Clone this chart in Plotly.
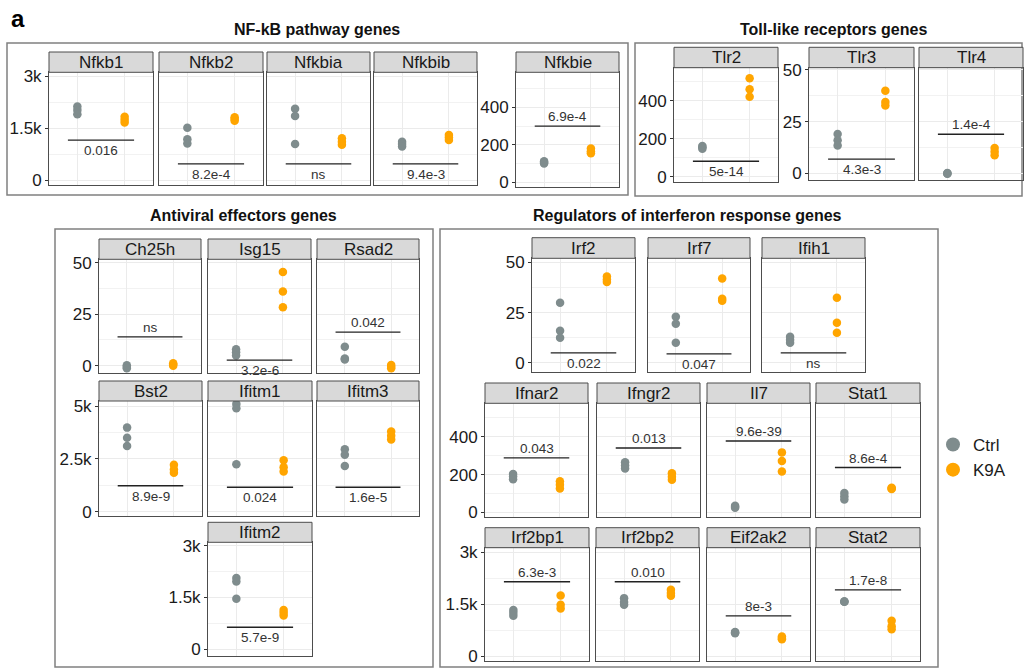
import plotly.graph_objects as go

# ---------------- data ----------------
genes = ["Nfkb1", "Nfkb2", "Nfkbia", "Nfkbib", "Nfkbie",
         "Tlr2", "Tlr3", "Tlr4",
         "Ch25h", "Isg15", "Rsad2", "Bst2", "Ifitm1", "Ifitm3", "Ifitm2",
         "Irf2", "Irf7", "Ifih1", "Ifnar2", "Ifngr2", "Il7", "Stat1",
         "Irf2bp1", "Irf2bp2", "Eif2ak2", "Stat2"]

ctrl_values = {
    "Nfkb1": [2120, 2020, 1900], "Nfkb2": [1510, 1180, 1060], "Nfkbia": [2060, 1850, 1045],
    "Nfkbib": [1110, 1040, 970], "Nfkbie": [112, 106, 100],
    "Tlr2": [162, 155, 148], "Tlr3": [19, 16, 13.5], "Tlr4": [0.2, 0, -0.2],
    "Ch25h": [0.2, -0.6, -1.3], "Isg15": [8, 6.5, 5], "Rsad2": [9.2, 3.5, 3.0],
    "Bst2": [3980, 3500, 3110], "Ifitm1": [5100, 4900, 2250], "Ifitm3": [2950, 2700, 2160],
    "Ifitm2": [2060, 1960, 1460],
    "Irf2": [30, 16, 12.5], "Irf7": [23, 19.5, 10], "Ifih1": [13, 11.5, 10],
    "Ifnar2": [203, 190, 175], "Ifngr2": [265, 248, 232], "Il7": [35, 30, 25], "Stat1": [102, 85, 68],
    "Irf2bp1": [1330, 1250, 1160], "Irf2bp2": [1670, 1560, 1480], "Eif2ak2": [690, 675, 660],
    "Stat2": [1575, 1570, 1565],
}
k9a_values = {
    "Nfkb1": [1830, 1740, 1660], "Nfkb2": [1810, 1760, 1710], "Nfkbia": [1210, 1110, 1020],
    "Nfkbib": [1300, 1230, 1160], "Nfkbie": [180, 166, 155],
    "Tlr2": [518, 460, 421], "Tlr3": [40, 34.5, 32.8], "Tlr4": [12.3, 10.5, 8.8],
    "Ch25h": [1.2, 0.6, 0], "Isg15": [45.5, 36, 28.4], "Rsad2": [0.3, -0.5, -1.2],
    "Bst2": [2220, 2000, 1840], "Ifitm1": [2440, 2100, 1900], "Ifitm3": [3800, 3600, 3420],
    "Ifitm2": [1140, 1060, 980],
    "Irf2": [43, 41.5, 40.3], "Irf7": [42, 32, 31], "Ifih1": [32.5, 20, 15],
    "Ifnar2": [165, 146, 126], "Ifngr2": [207, 188, 172], "Il7": [317, 272, 216], "Stat1": [130, 127, 124],
    "Irf2bp1": [1745, 1480, 1370], "Irf2bp2": [1910, 1820, 1740], "Eif2ak2": [560, 520, 485],
    "Stat2": [1020, 860, 770],
}
pbar_y = {
    "Nfkb1": 1154, "Nfkb2": 470, "Nfkbia": 470, "Nfkbib": 470, "Nfkbie": 300,
    "Tlr2": 82, "Tlr3": 6.9, "Tlr4": 18.9,
    "Ch25h": 14, "Isg15": 2.7, "Rsad2": 16.3, "Bst2": 1230, "Ifitm1": 1155, "Ifitm3": 1155,
    "Ifitm2": 637,
    "Irf2": 5, "Irf7": 4.5, "Ifih1": 5, "Ifnar2": 288, "Ifngr2": 340, "Il7": 377, "Stat1": 237,
    "Irf2bp1": 2141, "Irf2bp2": 2141, "Eif2ak2": 1157, "Stat2": 1909,
}
p_labels = {
    "Nfkb1": "0.016", "Nfkb2": "8.2e-4", "Nfkbia": "ns", "Nfkbib": "9.4e-3", "Nfkbie": "6.9e-4",
    "Tlr2": "5e-14", "Tlr3": "4.3e-3", "Tlr4": "1.4e-4",
    "Ch25h": "ns", "Isg15": "3.2e-6", "Rsad2": "0.042", "Bst2": "8.9e-9", "Ifitm1": "0.024",
    "Ifitm3": "1.6e-5", "Ifitm2": "5.7e-9",
    "Irf2": "0.022", "Irf7": "0.047", "Ifih1": "ns", "Ifnar2": "0.043", "Ifngr2": "0.013",
    "Il7": "9.6e-39", "Stat1": "8.6e-4", "Irf2bp1": "6.3e-3", "Irf2bp2": "0.010",
    "Eif2ak2": "8e-3", "Stat2": "1.7e-8",
}
groups = ["Ctrl", "K9A"]
group_titles = ["NF-kB pathway genes", "Toll-like receptors genes",
                "Antiviral effectors genes", "Regulators of interferon response genes"]

# ---------------- layout / styles ----------------
W, H = 1026, 668
CTRL_COLOR = "#7F8C8D"
K9A_COLOR = "#FFA500"
FONT = "Arial, Liberation Sans, sans-serif"

# y scales: (range, major ticks, tick text, minor ticks)
SCALES = {
    "3k_nf": ([-138, 3108], [0, 1500, 3000], ["0", "1.5k", "3k"], [750, 2250]),
    "400_nf": ([-25, 587], [0, 200, 400], ["0", "200", "400"], [100, 300, 500]),
    "400_tlr": ([-26, 574], [0, 200, 400], ["0", "200", "400"], [100, 300, 500]),
    "50_tlr": ([-3.2, 51.1], [0, 25, 50], ["0", "25", "50"], [12.5, 37.5]),
    "50_av": ([-3.7, 51.7], [0, 25, 50], ["0", "25", "50"], [12.5, 37.5]),
    "5k_av": ([-190, 5240], [0, 2500, 5000], ["0", "2.5k", "5k"], [1250, 3750]),
    "3k_av": ([-185, 3095], [0, 1500, 3000], ["0", "1.5k", "3k"], [750, 2250]),
    "50_reg": ([-4.4, 52.1], [0, 25, 50], ["0", "25", "50"], [12.5, 37.5]),
    "400_reg": ([-24, 576], [0, 200, 400], ["0", "200", "400"], [100, 300, 500]),
    "3k_reg": ([-135, 3125], [0, 1500, 3000], ["0", "1.5k", "3k"], [750, 2250]),
}

# panel pixel boxes: x0, x1, strip_top, plot_top, plot_bottom, scale, show y labels, label above?
PANELS = {
    "Nfkb1": (49, 153, 52, 72.3, 185, "3k_nf", True, False),
    "Nfkb2": (159, 263, 52, 72.3, 185, "3k_nf", False, False),
    "Nfkbia": (267, 370, 52, 72.3, 185, "3k_nf", False, False),
    "Nfkbib": (374, 477, 52, 72.3, 185, "3k_nf", False, False),
    "Nfkbie": (516, 619, 52, 72.3, 187, "400_nf", True, True),
    "Tlr2": (674, 778, 47.3, 67.7, 181.7, "400_tlr", True, False),
    "Tlr3": (809, 914, 47.3, 67.7, 180, "50_tlr", True, False),
    "Tlr4": (919, 1023, 47.3, 67.7, 180, "50_tlr", False, True),
    "Ch25h": (99, 201, 239, 259.3, 373.3, "50_av", True, True),
    "Isg15": (208, 311, 239, 259.3, 373.3, "50_av", False, False),
    "Rsad2": (317, 419, 239, 259.3, 373.3, "50_av", False, True),
    "Bst2": (99, 202, 381, 401, 515.7, "5k_av", True, False),
    "Ifitm1": (208, 312, 381, 401, 515.7, "5k_av", False, False),
    "Ifitm3": (317, 419, 381, 401, 515.7, "5k_av", False, False),
    "Ifitm2": (208, 312, 522.3, 542.3, 655.7, "3k_av", True, False),
    "Irf2": (532, 635, 237.7, 258.3, 371.7, "50_reg", True, False),
    "Irf7": (648, 750, 237.7, 258.3, 371.7, "50_reg", False, False),
    "Ifih1": (762, 865, 237.7, 258.3, 371.7, "50_reg", False, False),
    "Ifnar2": (485, 588, 383, 403.3, 517, "400_reg", True, True),
    "Ifngr2": (597, 700, 383, 403.3, 517, "400_reg", False, True),
    "Il7": (707, 810, 383, 403.3, 517, "400_reg", False, True),
    "Stat1": (816, 920, 383, 403.3, 517, "400_reg", False, True),
    "Irf2bp1": (485, 589, 527.7, 547.7, 660.7, "3k_reg", True, True),
    "Irf2bp2": (596, 699, 527.7, 547.7, 660.7, "3k_reg", False, True),
    "Eif2ak2": (707, 810, 527.7, 547.7, 660.7, "3k_reg", False, True),
    "Stat2": (816, 920, 527.7, 547.7, 660.7, "3k_reg", False, True),
}

# group boxes (x0, x1, top, bottom) and title centres (x, y)
GROUP_BOXES = [(7, 628, 43, 195), (635, 1022, 43, 196), (55, 433, 229, 667), (440, 938, 229, 667)]
GROUP_TITLE_POS = [(317, 30), (833, 30), (243, 215), (687, 215)]


def fx(px):
    return px / W


def fy(py):
    return 1 - py / H


fig = go.Figure()
shapes = []
annotations = []
layout = {}

for i, g in enumerate(genes, start=1):
    x0, x1, st, pt, pb, sc, showy, above = PANELS[g]
    rng, major, mtext, minor = SCALES[sc]
    xa, ya = f"x{i}", f"y{i}"
    xkey = "xaxis" if i == 1 else f"xaxis{i}"
    ykey = "yaxis" if i == 1 else f"yaxis{i}"
    layout[xkey] = dict(
        domain=[fx(x0), fx(x1)], anchor=ya, type="category",
        categoryorder="array", categoryarray=groups, range=[-0.6, 1.6],
        showticklabels=False, ticks="", showgrid=True, gridcolor="#EBEBEB", gridwidth=1.2,
        zeroline=False, showline=True, mirror=True, linecolor="#4d4d4d", linewidth=1,
        fixedrange=True,
    )
    layout[ykey] = dict(
        domain=[fy(pb), fy(pt)], anchor=xa, range=rng,
        tickmode="array", tickvals=major, ticktext=mtext, showticklabels=showy,
        ticks="outside" if showy else "", ticklen=3, tickcolor="#333", tickwidth=1,
        tickfont=dict(family=FONT, size=17, color="#1a1a1a"),
        showgrid=True, gridcolor="#EBEBEB", gridwidth=1.2,
        minor=dict(tickvals=minor, showgrid=True, gridcolor="#F2F2F2", gridwidth=0.8, ticks=""),
        zeroline=False, showline=True, mirror=True, linecolor="#4d4d4d", linewidth=1,
        fixedrange=True,
    )
    # points
    fig.add_trace(go.Scatter(
        x=[groups[0]] * len(ctrl_values[g]), y=ctrl_values[g], mode="markers",
        marker=dict(color=CTRL_COLOR, size=8.5), xaxis=xa, yaxis=ya, showlegend=False,
        hoverinfo="y"))
    fig.add_trace(go.Scatter(
        x=[groups[1]] * len(k9a_values[g]), y=k9a_values[g], mode="markers",
        marker=dict(color=K9A_COLOR, size=8.5), xaxis=xa, yaxis=ya, showlegend=False,
        hoverinfo="y"))
    # strip
    shapes.append(dict(type="rect", xref="paper", yref="paper",
                       x0=fx(x0), x1=fx(x1), y0=fy(pt), y1=fy(st),
                       fillcolor="#D9D9D9", line=dict(color="#4d4d4d", width=1)))
    annotations.append(dict(xref="paper", yref="paper", x=fx((x0 + x1) / 2), y=fy((st + pt) / 2),
                            text=g, showarrow=False, xanchor="center", yanchor="middle",
                            font=dict(family=FONT, size=17, color="#1a1a1a")))
    # p-value bar and label
    shapes.append(dict(type="line", xref=xa, yref=ya, x0=-0.2, x1=1.2,
                       y0=pbar_y[g], y1=pbar_y[g], line=dict(color="#222", width=1.4)))
    annotations.append(dict(xref=xa, yref=ya, x=0.5, y=pbar_y[g], text=p_labels[g],
                            showarrow=False, xanchor="center",
                            yanchor="bottom" if above else "top",
                            yshift=0 if above else -1,
                            font=dict(family=FONT, size=13.5, color="#333")))

# group boxes and titles
for (bx0, bx1, bt, bb), title, (tx, ty) in zip(GROUP_BOXES, group_titles, GROUP_TITLE_POS):
    shapes.append(dict(type="rect", xref="paper", yref="paper", layer="below",
                       x0=fx(bx0), x1=fx(bx1), y0=fy(bb), y1=fy(bt),
                       line=dict(color="#808080", width=1.5)))
    annotations.append(dict(xref="paper", yref="paper", x=fx(tx), y=fy(ty), text=f"<b>{title}</b>",
                            showarrow=False, xanchor="center", yanchor="middle",
                            font=dict(family=FONT, size=16, color="#111")))

annotations.append(dict(xref="paper", yref="paper", x=fx(9), y=fy(18), text="<b>a</b>",
                        showarrow=False, xanchor="left", yanchor="middle",
                        font=dict(family=FONT, size=24, color="#000")))

# legend entries
for name, col in zip(groups, [CTRL_COLOR, K9A_COLOR]):
    fig.add_trace(go.Scatter(x=[None], y=[None], mode="markers", name=name,
                             marker=dict(color=col, size=14), xaxis="x1", yaxis="y1",
                             showlegend=True))

fig.update_layout(
    width=W, height=H, margin=dict(l=0, r=0, t=0, b=0, autoexpand=False),
    paper_bgcolor="white", plot_bgcolor="white",
    shapes=shapes, annotations=annotations,
    legend=dict(x=fx(933), y=fy(427), xanchor="left", yanchor="top",
                font=dict(family=FONT, size=17, color="#1a1a1a"),
                bgcolor="rgba(0,0,0,0)", tracegroupgap=2, itemsizing="trace"),
    **layout,
)

fig.write_html(
    "out.html",
    config={"displayModeBar": False, "staticPlot": False},
    post_script="document.body.style.margin='0';document.body.style.padding='0';"
                "document.documentElement.style.overflow='hidden';",
)
